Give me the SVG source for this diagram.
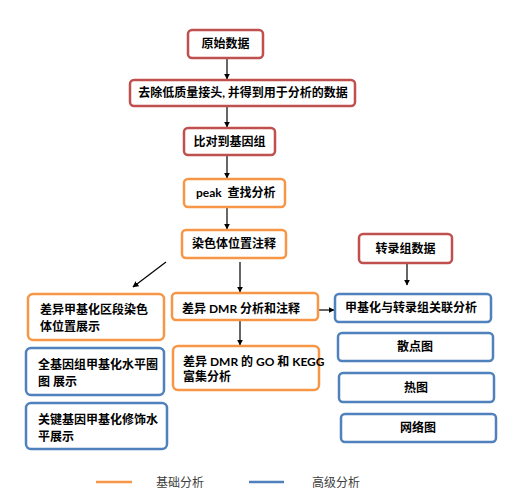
<svg xmlns="http://www.w3.org/2000/svg" width="505" height="499" viewBox="0 0 505 499">
<style>
.box{fill:#fff;stroke-width:2.5}
.red{stroke:#c0504d}
.org{stroke:#f79646}
.blu{stroke:#4f81bd}
text{font-family:"Lato","Noto Sans CJK SC",sans-serif;font-size:12px;font-weight:bold;fill:#000}
.c{text-anchor:middle}
.lg{font-weight:normal;font-size:12px;fill:#404040}
.ar{stroke:#000;stroke-width:1.2;fill:none;marker-end:url(#ah)}
</style>
<defs>
<marker id="ah" viewBox="0 0 10 10" refX="9" refY="5" markerWidth="6" markerHeight="6" orient="auto" markerUnits="userSpaceOnUse">
<path d="M0,0 L10,5 L0,10 z" fill="#000"/>
</marker>
</defs>
<rect width="505" height="499" fill="#fff"/>
<g id="connectors">
<line class="ar" x1="227" y1="59" x2="227" y2="79"/>
<line class="ar" x1="227" y1="107" x2="227" y2="127"/>
<line class="ar" x1="227" y1="156" x2="227" y2="178"/>
<line class="ar" x1="227" y1="208" x2="227" y2="229"/>
<line class="ar" x1="166" y1="262" x2="133" y2="287"/>
<line class="ar" x1="240" y1="262" x2="240" y2="292"/>
<line class="ar" x1="240" y1="321" x2="240" y2="345"/>
<line class="ar" x1="318" y1="310" x2="334" y2="310"/>
<line class="ar" x1="407" y1="264" x2="407" y2="285"/>
</g>
<g id="n1"><rect class="box red" x="188" y="30" width="75" height="28" rx="4"/><text class="c" x="225.5" y="48">原始数据</text></g>
<g id="n2"><rect class="box red" x="130" y="80" width="225" height="26" rx="4"/><text class="c" x="243" y="97">去除低质量接头, 并得到用于分析的数据</text></g>
<g id="n3"><rect class="box red" x="184" y="128" width="91" height="27" rx="4"/><text class="c" x="229.5" y="146">比对到基因组</text></g>
<g id="n4"><rect class="box org" x="184" y="179" width="101" height="28" rx="4"/><text x="196" y="197">peak &#160;查找分析</text></g>
<g id="n5"><rect class="box org" x="182" y="230" width="104" height="28" rx="4"/><text class="c" x="234" y="248">染色体位置注释</text></g>
<g id="n6"><rect class="box org" x="28" y="294" width="136" height="46" rx="5"/><text x="40" y="314">差异甲基化区段染色</text><text x="40" y="331">体位置展示</text></g>
<g id="n7"><rect class="box blu" x="26" y="348" width="138" height="47" rx="5"/><text x="38" y="369">全基因组甲基化水平圈</text><text x="38" y="386">图 展示</text></g>
<g id="n8"><rect class="box blu" x="26" y="403" width="141" height="46" rx="5"/><text x="38" y="424">关键基因甲基化修饰水</text><text x="38" y="441">平展示</text></g>
<g id="n9"><rect class="box org" x="172" y="293" width="146" height="27" rx="4"/><text x="182" y="313">差异 DMR 分析和注释</text></g>
<g id="n10"><rect class="box org" x="173" y="346" width="146" height="44" rx="5"/><text x="183" y="366">差异 DMR 的 GO 和 KEGG</text><text x="183" y="381">富集分析</text></g>
<g id="n11"><rect class="box red" x="359" y="234" width="93" height="29" rx="4"/><text class="c" x="405.5" y="253">转录组数据</text></g>
<g id="n12"><rect class="box blu" x="335" y="294" width="156" height="28" rx="4"/><text class="c" x="411" y="312">甲基化与转录组关联分析</text></g>
<g id="n13"><rect class="box blu" x="338" y="333" width="155" height="28" rx="4"/><text class="c" x="415" y="351">散点图</text></g>
<g id="n14"><rect class="box blu" x="339" y="373" width="155" height="29" rx="4"/><text class="c" x="416" y="392">热图</text></g>
<g id="n15"><rect class="box blu" x="341" y="414" width="155" height="28" rx="4"/><text class="c" x="418" y="432">网络图</text></g>
<g id="legend">
<line x1="96" y1="482" x2="132" y2="482" stroke="#f79646" stroke-width="2.5"/>
<text class="lg" x="156" y="487">基础分析</text>
<line x1="249" y1="482" x2="284" y2="482" stroke="#4f81bd" stroke-width="2.5"/>
<text class="lg" x="312" y="487">高级分析</text>
</g>
</svg>
